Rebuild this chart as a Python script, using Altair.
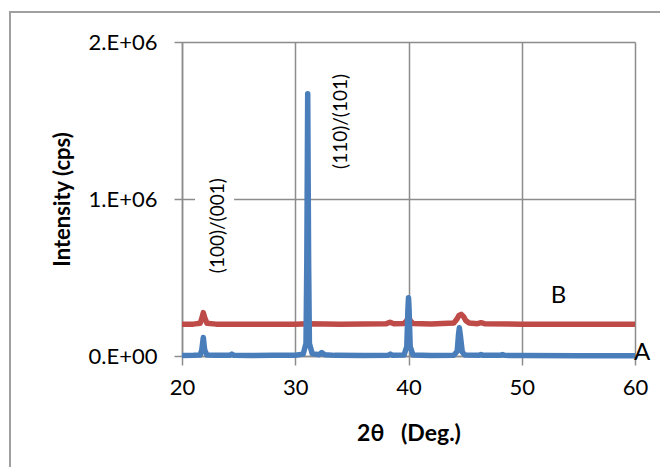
import altair as alt
import pandas as pd

# ---------------- data ----------------
a_x = [20.0, 21.0, 21.6, 21.75, 21.88, 22.0, 22.2, 23.0, 24.2, 24.4, 24.6, 26.0, 28.0, 30.0,
       30.7, 30.95, 31.02, 31.1, 31.18, 31.25, 31.5, 32.1, 32.33, 32.6, 33.5, 36.0,
       38.2, 38.4, 38.6, 39.6, 39.85, 39.95, 40.0, 40.05, 40.15, 40.4, 42.0,
       44.0, 44.3, 44.42, 44.49, 44.58, 44.75, 45.0, 46.2, 46.4, 46.6, 48.1, 48.3, 48.5,
       50.0, 55.0, 60.0]
a_y = [3000, 4000, 6000, 40000, 118000, 40000, 6000, 4000, 4000, 12000, 4000, 3000, 4000, 5000,
       12000, 80000, 600000, 1670000, 600000, 80000, 15000, 8000, 22000, 8000, 4000, 3000,
       4000, 12000, 4000, 6000, 60000, 300000, 371000, 300000, 60000, 6000, 3000,
       5000, 30000, 140000, 180000, 130000, 25000, 6000, 4000, 10000, 4000, 4000, 9000, 4000,
       3000, 2000, 2000]

b_x = [20.0, 21.0, 21.6, 21.75, 21.88, 22.0, 22.2, 23.0, 26.0, 30.0, 31.1, 34.0,
       38.0, 38.37, 38.7, 39.6, 39.85, 40.0, 40.15, 40.4, 42.0,
       44.0, 44.25, 44.45, 44.65, 44.85, 45.05, 45.35, 46.1, 46.4, 46.7, 50.0, 55.0, 60.0]
b_y = [202000, 203000, 208000, 240000, 276000, 245000, 208000, 203000, 202000, 203000, 206000, 203000,
       205000, 215000, 205000, 207000, 225000, 252000, 225000, 207000, 204000,
       210000, 232000, 258000, 265000, 252000, 226000, 210000, 206000, 212000, 206000, 203000, 202000, 202000]

x_ticks = [20, 30, 40, 50, 60]
y_ticks = [0, 1000000, 2000000]
y_tick_labels = ["0.E+00", "1.E+06", "2.E+06"]

peak_labels = ["(100)/(001)", "(110)/(101)"]
peak_label_x = [23.2, 34.04]
peak_label_y = [830000, 1494000]

series_names = ["A", "B"]
series_label_x = [60.62, 53.25]
series_label_y = [16000, 382000]

# white box behind the first peak label (interrupts the gridline)
box_x = [21.15]
box_x2 = [24.6]
box_y = [520000]
box_y2 = [1140000]

x_title = "2θ\u00a0\u00a0 (Deg.)"
y_title = "Intensity (cps)"

# ---------------- styling ----------------
FONT = "Lato"
GRID = "#8c8c8c"
BLUE = "#4a7ebb"
RED = "#be4b48"
W, H = 453, 314

label_expr = ""
for v, lab in zip(y_ticks, y_tick_labels):
    label_expr += f"datum.value == {v} ? '{lab}' : "
label_expr += "''"

df_a = pd.DataFrame({"x": a_x, "y": a_y})
df_b = pd.DataFrame({"x": b_x, "y": b_y})
df_peaks = pd.DataFrame({"x": peak_label_x, "y": peak_label_y, "t": peak_labels})
df_series = pd.DataFrame({"x": series_label_x, "y": series_label_y, "t": series_names})
df_box = pd.DataFrame({"x": box_x, "x2": box_x2, "y": box_y, "y2": box_y2})

xscale = alt.Scale(domain=[20, 60], nice=False, zero=False)
yscale = alt.Scale(domain=[0, 2000000], nice=False)

xaxis = alt.Axis(values=x_ticks, title=x_title, grid=True, gridColor=GRID, gridWidth=1.5,
                 domainColor=GRID, domainWidth=1.5, tickColor=GRID, tickWidth=1.5, tickSize=9,
                 labelFont=FONT, labelFontSize=22, labelColor="black", labelPadding=22,
                 labelBaseline="middle", labelFlush=False,
                 titleFont=FONT, titleFontSize=23, titleFontWeight="bold", titleColor="black",
                 titleY=77, titleBaseline="middle")
yaxis = alt.Axis(values=y_ticks, labelExpr=label_expr, title=y_title, grid=True,
                 gridColor=GRID, gridWidth=1.5, domainColor=GRID, domainWidth=1.5,
                 tickColor=GRID, tickWidth=1.5, tickSize=8,
                 labelFont=FONT, labelFontSize=22, labelColor="black", labelPadding=17,
                 labelFlush=False,
                 titleFont=FONT, titleFontSize=22, titleFontWeight="bold", titleColor="black",
                 titleAngle=270, titleX=-120, titleY=157, titleAlign="center",
                 titleBaseline="middle")

frame = alt.Chart(pd.DataFrame({"k": [0]})).mark_rect(
    fillOpacity=0, stroke="#a0a0a0", strokeWidth=2
).encode(x=alt.value(-172), x2=alt.value(700), y=alt.value(-30), y2=alt.value(500))

box = alt.Chart(df_box).mark_rect(color="white").encode(
    x=alt.X("x:Q", scale=xscale, axis=xaxis),
    x2="x2:Q",
    y=alt.Y("y:Q", scale=yscale, axis=yaxis),
    y2="y2:Q",
)

line_b = alt.Chart(df_b).mark_line(color=RED, strokeWidth=5.5, strokeJoin="round").encode(
    x=alt.X("x:Q", scale=xscale), y=alt.Y("y:Q", scale=yscale)
)
line_a = alt.Chart(df_a).mark_line(color=BLUE, strokeWidth=5.5, strokeJoin="round").encode(
    x=alt.X("x:Q", scale=xscale), y=alt.Y("y:Q", scale=yscale)
)

peak_text = alt.Chart(df_peaks).mark_text(
    font=FONT, fontSize=19, angle=270, align="center", baseline="middle", color="black"
).encode(x=alt.X("x:Q", scale=xscale), y=alt.Y("y:Q", scale=yscale), text="t:N")

series_text = alt.Chart(df_series).mark_text(
    font=FONT, fontSize=24, align="center", baseline="middle", color="black"
).encode(x=alt.X("x:Q", scale=xscale), y=alt.Y("y:Q", scale=yscale), text="t:N")

chart = alt.layer(frame, box, line_b, line_a, peak_text, series_text).properties(
    width=W, height=H,
    autosize=alt.AutoSizeParams(type="none"),
    padding={"left": 174, "top": 34, "right": 25, "bottom": 111},
    background="white",
).configure_view(strokeOpacity=0)

chart.save("out.html", embed_options={"renderer": "svg", "actions": False})
